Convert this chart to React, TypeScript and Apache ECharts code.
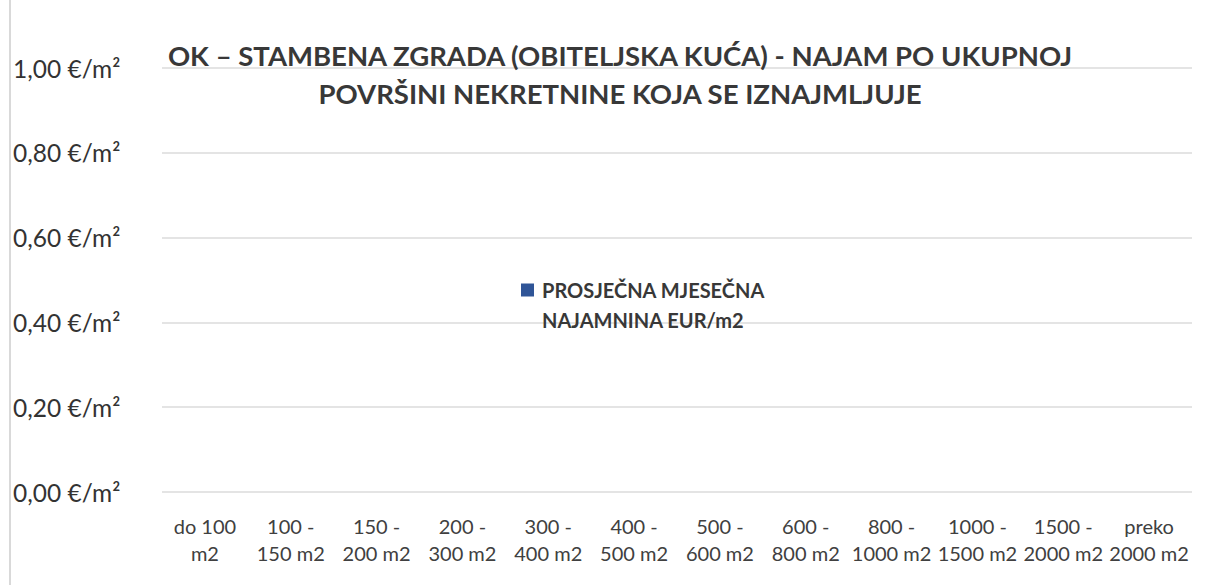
import React, { useEffect, useRef } from "react";
import * as echarts from "echarts";

const titleLines = [
  "OK – STAMBENA ZGRADA (OBITELJSKA KUĆA) - NAJAM PO UKUPNOJ",
  "POVRŠINI NEKRETNINE KOJA SE IZNAJMLJUJE",
];
const categories = [
  "do 100\nm2",
  "100 -\n150 m2",
  "150 -\n200 m2",
  "200 -\n300 m2",
  "300 -\n400 m2",
  "400 -\n500 m2",
  "500 -\n600 m2",
  "600 -\n800 m2",
  "800 -\n1000 m2",
  "1000 -\n1500 m2",
  "1500 -\n2000 m2",
  "preko\n2000 m2",
];
const seriesName = "PROSJEČNA MJESEČNA\nNAJAMNINA EUR/m2";
const rentValues = [0, 0, 0, 0, 0, 0, 0, 0, 0, 0, 0, 0];
const yTicks = { min: 0, max: 1, interval: 0.2 };

export default function App() {
  const ref = useRef<HTMLDivElement>(null);
  useEffect(() => {
    const chart = echarts.init(ref.current!, null, { renderer: "svg" });
    chart.setOption({
      animation: false,
      backgroundColor: "#ffffff",
      textStyle: { fontFamily: "Lato" },
      title: {
        text: titleLines.join("\n"),
        left: 620,
        top: 36,
        padding: 0,
        textAlign: "center",
        textStyle: {
          fontFamily: "Lato",
          fontWeight: "bold",
          fontSize: 27.5,
          lineHeight: 38,
          color: "#383838",
        },
      },
      legend: {
        left: 516,
        top: 270,
        orient: "vertical",
        icon: "path://M0,0L13,0L13,13L0,13Z M0,43",
        itemWidth: 13,
        itemHeight: 43,
        itemGap: 0,
        textStyle: {
          fontFamily: "Lato",
          fontWeight: "bold",
          fontSize: 20,
          lineHeight: 30,
          color: "#383838",
          padding: [0, 0, 0, 3],
        },
        data: [seriesName],
      },
      grid: { left: 162, right: 27, top: 68, bottom: 93, containLabel: false },
      xAxis: {
        type: "category",
        data: categories,
        axisLine: { show: false },
        axisTick: { show: false },
        axisLabel: {
          interval: 0,
          margin: 20,
          fontFamily: "Lato",
          fontSize: 20,
          lineHeight: 27,
          color: "#404040",
        },
      },
      yAxis: {
        type: "value",
        min: yTicks.min,
        max: yTicks.max,
        interval: yTicks.interval,
        axisLine: { show: false },
        axisTick: { show: false },
        splitLine: { lineStyle: { color: "#e4e4e4", width: 2 } },
        axisLabel: {
          align: "left",
          margin: 149,
          fontFamily: "Lato",
          fontSize: 24.5,
          color: "#333333",
          formatter: (v: number) => v.toFixed(2).replace(".", ",") + " €/m²",
        },
      },
      graphic: [
        {
          type: "line",
          shape: { x1: 10, y1: 0, x2: 10, y2: 585 },
          style: { stroke: "#d9d9d9", lineWidth: 2 },
        },
      ],
      series: [
        {
          name: seriesName,
          type: "bar",
          data: rentValues,
          itemStyle: { color: "#2F5597" },
        },
      ],
    });
    return () => chart.dispose();
  }, []);
  return (
    <div
      ref={ref}
      style={{ position: "fixed", left: 0, top: 0, width: 1219, height: 585 }}
    />
  );
}
